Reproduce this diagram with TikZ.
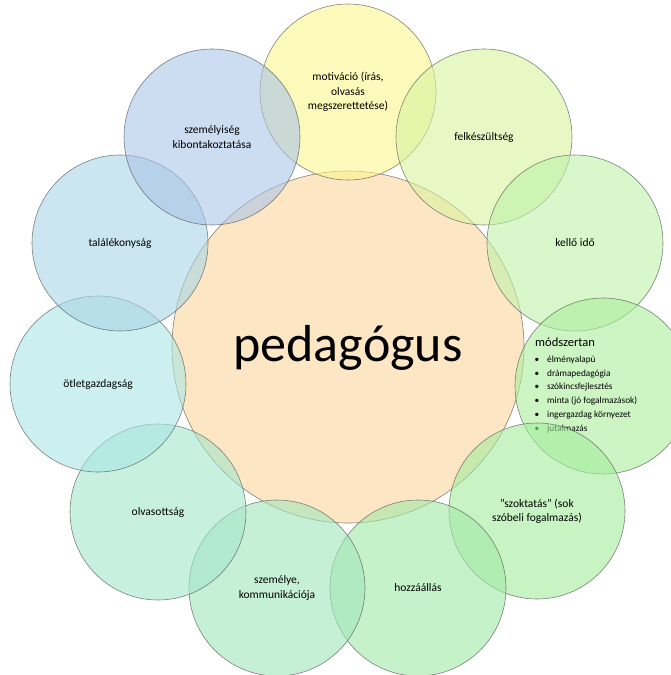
\documentclass[tikz,border=0pt]{standalone}
\usepackage{fontspec}
\setmainfont{Carlito}
% fill colours of the bubbles (shown at 60% opacity on white)
\definecolor{cHub}{RGB}{252,214,155}
\definecolor{cMot}{RGB}{250,246,140}
\definecolor{cFel}{RGB}{215,243,158}
\definecolor{cIdo}{RGB}{190,242,168}
\definecolor{cMod}{RGB}{170,238,155}
\definecolor{cSzo}{RGB}{163,237,157}
\definecolor{cHoz}{RGB}{160,233,165}
\definecolor{cKom}{RGB}{160,230,187}
\definecolor{cOlv}{RGB}{163,230,203}
\definecolor{cOtl}{RGB}{168,230,228}
\definecolor{cTal}{RGB}{168,213,230}
\definecolor{cSzem}{RGB}{170,196,232}
\begin{document}
\begin{tikzpicture}[x=1pt,y=-1pt]
\tikzset{
  bubble/.style={circle, draw=black!65, line width=0.6pt, draw opacity=0.75,
    fill opacity=0.6, text opacity=1, minimum size=176pt, inner sep=0pt,
    align=center, font=\fontsize{11.5}{14.3}\selectfont},
  hub/.style={bubble, minimum size=352pt},
  listline/.style={anchor=base west, inner sep=0pt, text opacity=1,
    font=\fontsize{9.3}{11}\selectfont}
}
\useasboundingbox (0,0) rectangle (671,675);
\clip (0,0) rectangle (671,675);

% central circle
\node[hub, fill=cHub] (ped) at (348,347) {};
\node[anchor=base, inner sep=0pt, font=\fontsize{52}{60}\selectfont] (pedtxt) at (348,361) {pedagógus};

% ring of bubbles, drawn clockwise from the top
\node[bubble, fill=cMot] (mot) at (348,92) {\raisebox{-11pt}{\parbox{120pt}{\centering motiváció (írás,\\ olvasás\\ megszerettetése)}}};
\node[bubble, fill=cFel] (fel) at (484,137) {felkészültség};
\node[bubble, fill=cIdo] (ido) at (575,243) {kellő idő};
\node[bubble, fill=cMod] (mod) at (603,386) {};
\node[anchor=base west, inner sep=0pt, font=\fontsize{12.5}{15}\selectfont] (modhead) at (535,346) {módszertan};
\foreach \t [count=\i] in {élményalapú, drámapedagógia, szókincsfejlesztés,
    minta (jó fogalmazások), ingergazdag környezet, jutalmazás}{
  \node[listline] (m\i) at (534.5,{348.5+13.8*\i}) {\makebox[12.5pt][l]{\textbullet}\t};
}
\node[bubble, fill=cSzo] (szo) at (537,511) {\symbol{34}szoktatás\symbol{34} (sok\\ szóbeli fogalmazás)};
\node[bubble, fill=cHoz] (hoz) at (418,588) {hozzáállás};
\node[bubble, fill=cKom] (kom) at (277,588) {személye,\\ kommunikációja};
\node[bubble, fill=cOlv] (olv) at (158,512) {olvasottság};
\node[bubble, fill=cOtl] (otl) at (98,384) {ötletgazdagság};
\node[bubble, fill=cTal] (tal) at (120,243) {találékonyság};
\node[bubble, fill=cSzem] (szem) at (212,137) {személyiség\\ kibontakoztatása};
\end{tikzpicture}
\end{document}
